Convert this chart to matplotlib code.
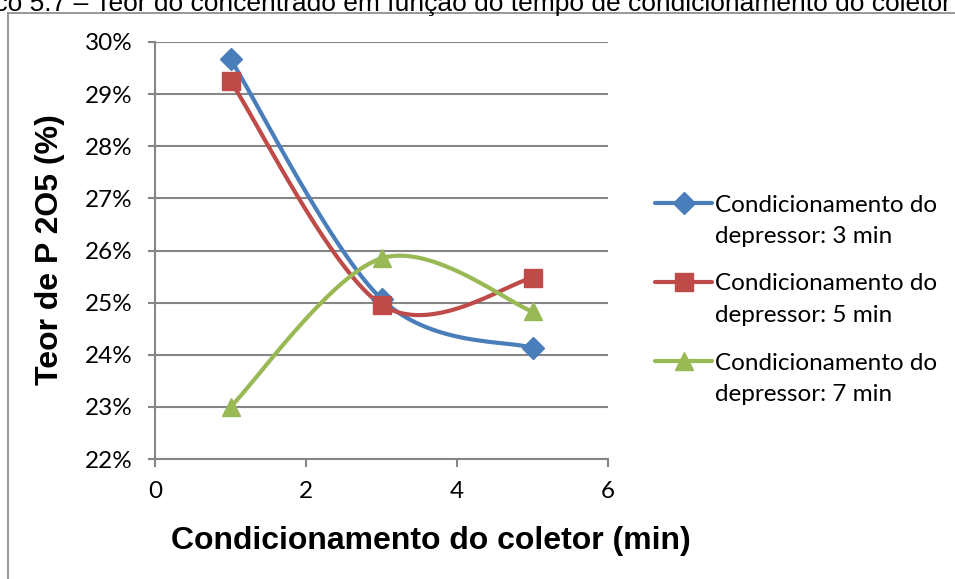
import numpy as np
import matplotlib
matplotlib.use("Agg")
import matplotlib.pyplot as plt
from matplotlib.lines import Line2D
from matplotlib.ticker import FuncFormatter

# tempo de condicionamento do coletor (min)
tempo_coletor = [1, 3, 5]
# teor de P2O5 (%) para cada tempo de condicionamento do depressor
teor_dep3 = [29.67, 25.07, 24.13]
teor_dep5 = [29.25, 24.96, 25.47]
teor_dep7 = [23.00, 25.85, 24.83]
rotulos = [("Condicionamento do", "depressor: 3 min"),
           ("Condicionamento do", "depressor: 5 min"),
           ("Condicionamento do", "depressor: 7 min")]
cores = ["#4A7EBB", "#BE4B48", "#98B954"]
marcadores = ["D", "s", "^"]
tam_marcador = [11, 12.5, 13]


def suaviza(x, y, n=40):
    # curva suave estilo Excel (Catmull-Rom em forma de Bezier)
    p = np.column_stack([x, y]).astype(float)
    p = np.vstack([p[0], p, p[-1]])
    xs, ys = [], []
    t = np.linspace(0, 1, n)
    for i in range(1, len(p) - 2):
        p0, p1, p2, p3 = p[i - 1], p[i], p[i + 1], p[i + 2]
        c1 = p1 + (p2 - p0) / 6
        c2 = p2 - (p3 - p1) / 6
        b = ((1 - t) ** 3)[:, None] * p1 + (3 * (1 - t) ** 2 * t)[:, None] * c1 \
            + (3 * (1 - t) * t ** 2)[:, None] * c2 + (t ** 3)[:, None] * p2
        xs.extend(b[:, 0])
        ys.extend(b[:, 1])
    return np.array(xs), np.array(ys)


W, H = 955, 579
plt.rcParams["font.family"] = ["Lato", "DejaVu Sans"]
fig = plt.figure(figsize=(W / 100, H / 100), dpi=100)
ax = fig.add_axes([155 / W, 1 - 459 / H, 453 / W, 417 / H])

cinza = "#868686"
for serie, cor, mk, ms in zip([teor_dep3, teor_dep5, teor_dep7], cores, marcadores, tam_marcador):
    sx, sy = suaviza(tempo_coletor, serie)
    ax.plot(sx, sy, color=cor, lw=3, solid_capstyle="round", zorder=3)
    ax.plot(tempo_coletor, serie, ls="none", marker=mk, color=cor,
            markersize=ms, zorder=4)

ax.set_xlim(0, 6)
ax.set_ylim(22, 30)
ax.set_xticks([0, 2, 4, 6])
ax.set_yticks(range(22, 31))
ax.yaxis.set_major_formatter(FuncFormatter(lambda v, p: f"{v:.0f}%"))
ax.grid(axis="y", color=cinza, lw=1.5)
ax.set_axisbelow(True)
for s in ["top", "right"]:
    ax.spines[s].set_visible(False)
for s in ["left", "bottom"]:
    ax.spines[s].set_color(cinza)
    ax.spines[s].set_linewidth(1.5)
ax.tick_params(axis="both", colors=cinza, width=1.5, labelsize=17.5,
               labelcolor="black")
ax.tick_params(axis="y", length=5, pad=11)
ax.tick_params(axis="x", length=6, pad=10)

fig.text(50 / W, 1 - 250 / H, "Teor de P 2O5 (%)", rotation=90, fontsize=23,
         fontweight="bold", family="Liberation Sans", ha="center", va="center")
fig.text(431 / W, 1 - 541 / H, "Condicionamento do coletor (min)", fontsize=23,
         fontweight="bold", family="Liberation Sans", ha="center", va="center")

# legenda: chave alinhada com a primeira linha do texto
for k, ((l1, l2), cor, mk, ms) in enumerate(zip(rotulos, cores, marcadores, tam_marcador)):
    base = 211.5 + 79 * k
    yk = 1 - (base - 8.5) / H
    fig.add_artist(Line2D([655 / W, 712 / W], [yk, yk], color=cor, lw=3,
                          solid_capstyle="round"))
    fig.add_artist(Line2D([683.5 / W], [yk], color=cor, marker=mk, markersize=ms))
    fig.text(715 / W, 1 - base / H, l1, fontsize=17.5, va="baseline")
    fig.text(715 / W, 1 - (base + 31.5) / H, l2, fontsize=17.5, va="baseline")

# moldura da area do grafico e titulo cortado no topo
fig.add_artist(Line2D([8 / W, 8 / W], [0, 1 - 13 / H], color=cinza, lw=1.2))
fig.add_artist(Line2D([8 / W, 1], [1 - 13 / H, 1 - 13 / H], color=cinza, lw=1.2))
fig.text(951 / W, 1 - 10.5 / H,
         "Gráfico 5.7 – Teor do concentrado em função do tempo de condicionamento do coletor",
         fontsize=19, family="Liberation Sans", ha="right", va="baseline")

fig.savefig("out.png", dpi=100)
